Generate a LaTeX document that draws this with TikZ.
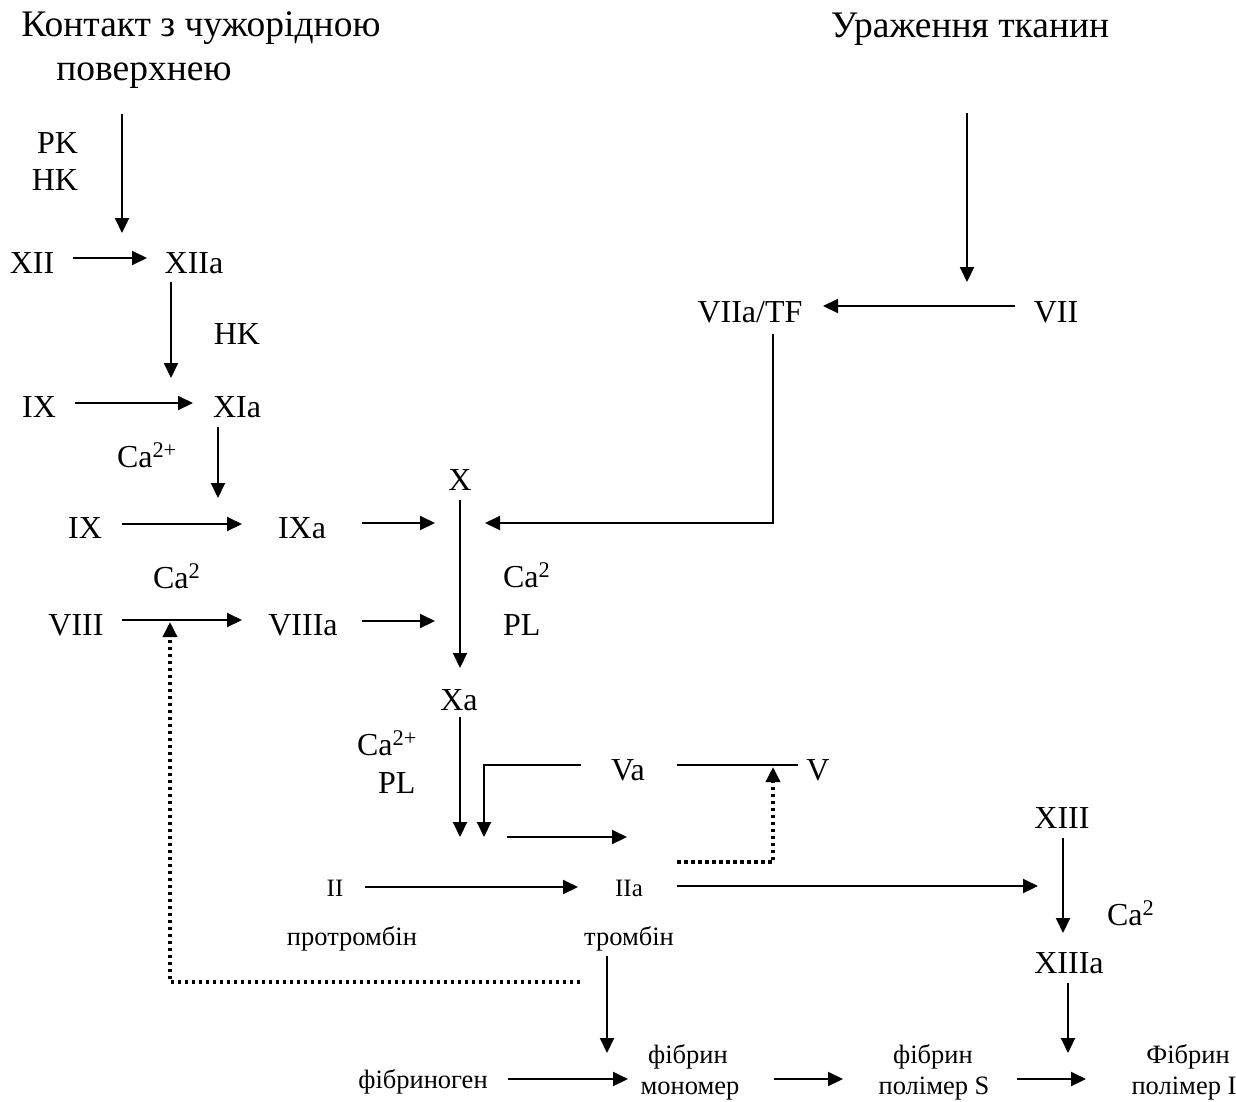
\documentclass[tikz,border=0pt]{standalone}
\usepackage{fontspec}
\setmainfont{Liberation Serif}
\usetikzlibrary{arrows.meta}
\begin{document}
\begin{tikzpicture}[x=1pt,y=-1pt,
  every node/.style={inner sep=0pt, outer sep=0pt},
  big/.style={font=\fontsize{37.5}{44}\selectfont, anchor=base},
  lab/.style={font=\fontsize{32}{38}\selectfont, anchor=base},
  sml/.style={font=\fontsize{25}{30}\selectfont, anchor=base},
  txt/.style={font=\fontsize{26.5}{31}\selectfont, anchor=base},
  arr/.style={line width=2pt, -{Triangle[length=15pt,width=14pt]}},
  ln/.style={line width=2pt},
  dots/.style={line width=3.5pt, dash pattern=on 3.5pt off 3.5pt},
  darr/.style={dots, -{Triangle[length=15pt,width=14pt]}}
]
\useasboundingbox (0,0) rectangle (1236,1101);

% ---- text nodes ----
\node[big] (t1) at (201,36) {Контакт з чужорідною};
\node[big] (t1b) at (144,80) {поверхнею};
\node[big] (t2) at (970,37) {Ураження тканин};
\node[lab, anchor=base east] (pk) at (78,153) {PK};
\node[lab, anchor=base east] (hk1) at (78,190) {HK};
\node[lab] (xii) at (32,273) {XII};
\node[lab] (xiia) at (194,273) {XIIa};
\node[lab] (hk2) at (237,344) {HK};
\node[lab] (ix1) at (39,417) {IX};
\node[lab] (xia) at (237,417) {XIa};
\node[lab, anchor=base west] (ca1) at (117,467) {Ca\textsuperscript{2+}};
\node[lab] (ix2) at (85,538) {IX};
\node[lab] (ixa) at (302,538) {IXa};
\node[lab] (x) at (460,490) {X};
\node[lab] (viiatf) at (750,322) {VIIa/TF};
\node[lab] (vii) at (1056,322) {VII};
\node[lab, anchor=base west] (ca2) at (153,588) {Ca\textsuperscript{2}};
\node[lab, anchor=base west] (ca3) at (503,587) {Ca\textsuperscript{2}};
\node[lab, anchor=base west] (pl1) at (503,635) {PL};
\node[lab] (viii) at (76,635) {VIII};
\node[lab] (viiia) at (303,635) {VIIIa};
\node[lab] (xa) at (459,710) {Xa};
\node[lab, anchor=base west] (ca4) at (357,755) {Ca\textsuperscript{2+}};
\node[lab, anchor=base west] (pl2) at (378,793) {PL};
\node[lab] (va) at (628,780) {Va};
\node[lab] (v) at (818,780) {V};
\node[sml] (ii) at (335,896) {II};
\node[sml] (iia) at (629,896) {IIa};
\node[txt] (protr) at (352,945) {протромбін};
\node[txt] (tromb) at (629,945) {тромбін};
\node[lab] (xiii) at (1062,828) {XIII};
\node[lab, anchor=base west] (ca5) at (1107,925) {Ca\textsuperscript{2}};
\node[lab] (xiiia) at (1069,973) {XIIIa};
\node[txt] (fgen) at (423,1088) {фібриноген};
\node[txt] (fmon1) at (688,1063) {фібрин};
\node[txt] (fmon2) at (690,1094) {мономер};
\node[txt] (fps1) at (933,1063) {фібрин};
\node[txt] (fps2) at (934,1094) {полімер S};
\node[txt] (fpi1) at (1188,1063) {Фібрин};
\node[txt] (fpi2) at (1184,1094) {полімер I};

% ---- connector end points ----
\coordinate (t1o) at (122,114);   \coordinate (xiiai) at (122,233);
\coordinate (xiio) at (73,258);   \coordinate (xiiaw) at (147,258);
\coordinate (xiiao) at (171,282); \coordinate (xiain) at (171,378);
\coordinate (ix1o) at (75,403);   \coordinate (xiaw) at (193,403);
\coordinate (xiao) at (218,427);  \coordinate (ixain) at (218,498);
\coordinate (ix2o) at (122,524);  \coordinate (ixaw) at (242,524);
\coordinate (ixao) at (362,523);  \coordinate (xinl) at (435,523);
\coordinate (xo) at (460,500);    \coordinate (xain) at (460,668);
\coordinate (t2o) at (967,113);   \coordinate (viin) at (967,282);
\coordinate (viio) at (1015,306); \coordinate (viiatfe) at (823,306);
\coordinate (viiatfo) at (773,334); \coordinate (tfc) at (773,523); \coordinate (xinr) at (485,523);
\coordinate (viiio) at (122,620); \coordinate (viiiaw) at (242,620);
\coordinate (viiiao) at (362,621); \coordinate (xinl2) at (435,621);
\coordinate (fbo) at (580,982);   \coordinate (fbc) at (170,982); \coordinate (viiiin) at (170,622);
\coordinate (xao) at (460,717);   \coordinate (xaend) at (460,837);
\coordinate (vao) at (581,765);   \coordinate (vac) at (484,765); \coordinate (vaend) at (484,837);
\coordinate (vaor) at (677,765);  \coordinate (vin) at (798,765);
\coordinate (mido) at (507,837);  \coordinate (mide) at (627,837);
\coordinate (iiafb) at (677,862); \coordinate (fbvc) at (773,862); \coordinate (fbvend) at (773,767);
\coordinate (iio) at (365,887);   \coordinate (iiaw) at (578,887);
\coordinate (iiao) at (677,886);  \coordinate (xiiiw) at (1038,886);
\coordinate (xiiio) at (1063,838); \coordinate (xiiiain) at (1063,933);
\coordinate (trombo) at (607,956); \coordinate (fmonin) at (607,1053);
\coordinate (xiiiao) at (1068,983); \coordinate (fpiin) at (1068,1053);
\coordinate (fgeno) at (508,1079); \coordinate (fmonw) at (628,1079);
\coordinate (fmono) at (774,1079); \coordinate (fpsw) at (843,1079);
\coordinate (fpso) at (1017,1079); \coordinate (fpiw) at (1086,1079);

% ---- connectors ----
\draw[arr] (t1o) -- (xiiai);
\draw[arr] (xiio) -- (xiiaw);
\draw[arr] (xiiao) -- (xiain);
\draw[arr] (ix1o) -- (xiaw);
\draw[arr] (xiao) -- (ixain);
\draw[arr] (ix2o) -- (ixaw);
\draw[arr] (ixao) -- (xinl);
\draw[arr] (xo) -- (xain);
\draw[arr] (t2o) -- (viin);
\draw[arr] (viio) -- (viiatfe);
\draw[arr] (viiatfo) -- (tfc) -- (xinr);
\draw[arr] (viiio) -- (viiiaw);
\draw[arr] (viiiao) -- (xinl2);
\draw[darr] (fbo) -- (fbc) -- (viiiin);
\draw[arr] (xao) -- (xaend);
\draw[arr] (vao) -- (vac) -- (vaend);
\draw[ln] (vaor) -- (vin);
\draw[arr] (mido) -- (mide);
\draw[darr] (iiafb) -- (fbvc) -- (fbvend);
\draw[arr] (iio) -- (iiaw);
\draw[arr] (iiao) -- (xiiiw);
\draw[arr] (xiiio) -- (xiiiain);
\draw[arr] (trombo) -- (fmonin);
\draw[arr] (xiiiao) -- (fpiin);
\draw[arr] (fgeno) -- (fmonw);
\draw[arr] (fmono) -- (fpsw);
\draw[arr] (fpso) -- (fpiw);
\end{tikzpicture}
\end{document}
